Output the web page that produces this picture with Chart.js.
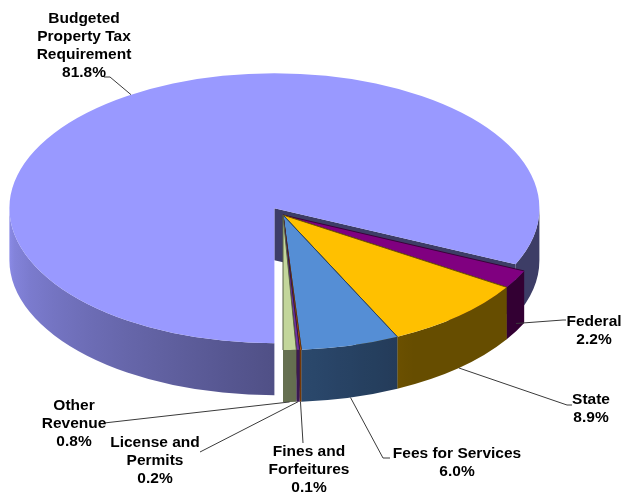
<!DOCTYPE html>
<html>
<head>
<meta charset="utf-8">
<script src="https://cdn.jsdelivr.net/npm/chart.js@4.4.1/dist/chart.umd.min.js"></script>
<style>
  html, body { margin: 0; padding: 0; background: #fff; }
  #box { position: relative; width: 624px; height: 496px; }
</style>
</head>
<body>
<div id="box"><canvas id="pie"></canvas></div>
<script>
// Revenue sources, share of total (%)
const categories = [
  ["Budgeted", "Property Tax", "Requirement"],
  ["Federal"],
  ["State"],
  ["Fees for Services"],
  ["Fines and", "Forfeitures"],
  ["License and", "Permits"],
  ["Other", "Revenue"],
];
const shares = [81.8, 2.2, 8.9, 6.0, 0.1, 0.2, 0.8];
const topColors = ["#9999FF", "#800080", "#FFC000", "#558ED5", "#E46C0A", "#7030A0", "#C3D69B"];

// 3D look: ellipse of the top face, thickness, explosion per slice
const GEO = { cx: 283, cy: 215, rx: 265, ry: 135, depth: 52 };
const EXPLODE = [0.06, 0, 0, 0, 0, 0, 0];

// label block centre, leader elbow/end, where the leader touches the slice (0 = top rim, 1 = wall bottom)
const LABELS = [
  { x: 84, y: 19, elbow: [110, 77], end: [104, 77], drop: 0 },
  { x: 594, y: 322, elbow: [563, 320], end: [566, 320], drop: 0.85 },
  { x: 591, y: 400, elbow: [567, 405], end: [572, 405], drop: 1 },
  { x: 457, y: 454, elbow: [383, 458], end: [390, 458], drop: 1 },
  { x: 309, y: 452, elbow: [303, 443], end: [303, 443], drop: 1 },
  { x: 155, y: 443, elbow: [200, 452], end: [200, 452], drop: 1 },
  { x: 74, y: 406, elbow: [104, 423], end: [104, 423], drop: 1 },
];

function hexRgb(h) {
  const n = parseInt(h.slice(1), 16);
  return [(n >> 16) & 255, (n >> 8) & 255, n & 255];
}
function shade(h, f) {
  const c = hexRgb(h).map((v) => Math.round(v * f));
  return `rgb(${c[0]},${c[1]},${c[2]})`;
}
// wall brightness by angle (dark on the right, lighter toward the left)
function wallFactor(a) {
  let d = ((a * 180) / Math.PI) % 360;
  if (d < 0) d += 360;
  if (d > 180) d = 180;
  return d < 60 ? 0.4 : 0.4 + ((d - 60) / 120) * 0.5;
}

const pie3d = {
  id: "pie3d",
  beforeDatasetsDraw(chart) {
    const ctx = chart.ctx;
    const { cx, cy, rx, ry, depth } = GEO;
    const meta = chart.getDatasetMeta(0);
    const slices = meta.data.map((el, i) => {
      const mid = (el.startAngle + el.endAngle) / 2;
      const e = EXPLODE[i] || 0;
      return {
        a0: el.startAngle,
        a1: el.endAngle,
        mid,
        x: cx + Math.cos(mid) * rx * e,
        y: cy + Math.sin(mid) * ry * e,
        color: el.options.backgroundColor,
      };
    });
    chart.$slices = slices;

    ctx.save();

    // cut faces that turn toward the viewer
    slices.forEach((s) => {
      [s.a0, s.a1].forEach((a, k) => {
        const c = Math.cos(a);
        if ((k === 1 && c <= 0.01) || (k === 0 && c >= -0.01)) return;
        const px = s.x + rx * Math.cos(a);
        const py = s.y + ry * Math.sin(a);
        ctx.beginPath();
        ctx.moveTo(s.x, s.y);
        ctx.lineTo(px, py);
        ctx.lineTo(px, py + depth);
        ctx.lineTo(s.x, s.y + depth);
        ctx.closePath();
        ctx.fillStyle = shade(s.color, 0.4);
        ctx.fill();
      });
    });

    // outer walls, only the front half
    slices.forEach((s) => {
      for (let k = -1; k <= 2; k++) {
        const lo = Math.max(s.a0, k * 2 * Math.PI);
        const hi = Math.min(s.a1, k * 2 * Math.PI + Math.PI);
        if (hi - lo <= 0.0001) continue;
        const xr = s.x + rx * Math.cos(lo);
        const xl = s.x + rx * Math.cos(hi);
        const grad = ctx.createLinearGradient(xl, 0, xr, 0);
        for (let j = 0; j <= 8; j++) {
          const t = hi - ((hi - lo) * j) / 8;
          const x = s.x + rx * Math.cos(t);
          const pos = xr - xl > 0.5 ? (x - xl) / (xr - xl) : j / 8;
          grad.addColorStop(Math.min(1, Math.max(0, pos)), shade(s.color, wallFactor(t)));
        }
        ctx.beginPath();
        ctx.ellipse(s.x, s.y, rx, ry, 0, lo, hi, false);
        ctx.ellipse(s.x, s.y + depth, rx, ry, 0, hi, lo, true);
        ctx.closePath();
        ctx.fillStyle = grad;
        ctx.fill();
      }
    });

    // top faces
    slices.forEach((s, i) => {
      ctx.beginPath();
      ctx.moveTo(s.x, s.y);
      ctx.ellipse(s.x, s.y, rx, ry, 0, s.a0, s.a1, false);
      ctx.closePath();
      ctx.fillStyle = s.color;
      ctx.fill();
      if (i > 0) {
        ctx.beginPath();
        ctx.moveTo(s.x + rx * Math.cos(s.a0), s.y + ry * Math.sin(s.a0));
        ctx.lineTo(s.x, s.y);
        ctx.lineTo(s.x + rx * Math.cos(s.a1), s.y + ry * Math.sin(s.a1));
        ctx.strokeStyle = shade(s.color, 0.45);
        ctx.lineWidth = 1;
        ctx.stroke();
      }
    });

    ctx.restore();
    return false;
  },
  afterDraw(chart) {
    const ctx = chart.ctx;
    const slices = chart.$slices;
    if (!slices) return;
    const { rx, ry, depth } = GEO;
    ctx.save();

    // leader lines
    ctx.strokeStyle = "#3a3a3a";
    ctx.lineWidth = 1;
    LABELS.forEach((L, i) => {
      const s = slices[i];
      const ax = s.x + rx * Math.cos(s.mid);
      const ay = s.y + ry * Math.sin(s.mid) + L.drop * depth;
      ctx.beginPath();
      ctx.moveTo(ax, ay);
      ctx.lineTo(L.elbow[0], L.elbow[1]);
      ctx.lineTo(L.end[0], L.end[1]);
      ctx.stroke();
    });

    // category + share text
    ctx.font = 'bold 15.5px "Liberation Sans", Arial, sans-serif';
    ctx.textAlign = "center";
    ctx.textBaseline = "middle";
    ctx.fillStyle = "#000";
    LABELS.forEach((L, i) => {
      const lines = [...chart.data.labels[i], shares[i].toFixed(1) + "%"];
      lines.forEach((t, k) => ctx.fillText(t, L.x, L.y + k * 17.8));
    });

    ctx.restore();
  },
};

new Chart(document.getElementById("pie"), {
  type: "pie",
  data: {
    labels: categories,
    datasets: [{ data: shares, backgroundColor: topColors, borderWidth: 0 }],
  },
  options: {
    responsive: true,
    maintainAspectRatio: false,
    animation: false,
    events: [],
    rotation: 180,
    plugins: {
      legend: { display: false },
      tooltip: { enabled: false },
    },
  },
  plugins: [pie3d],
});
</script>
</body>
</html>
